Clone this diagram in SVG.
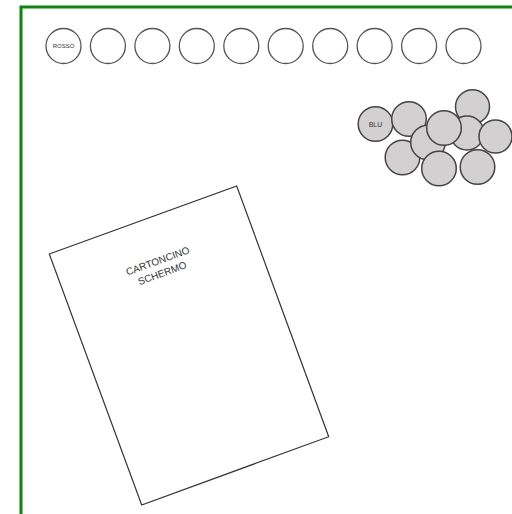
<svg xmlns="http://www.w3.org/2000/svg" width="512" height="514" viewBox="0 0 512 514">
<style>
.row{fill:#fff;stroke:#555;stroke-width:1.3}
.blu{fill:#d2d0d0;stroke:#444;stroke-width:1.5}
.lbl{font-family:"Liberation Sans",Arial,sans-serif;fill:#333}
</style>
<rect x="0" y="0" width="512" height="514" fill="#fff"/>
<rect x="21" y="7" width="600" height="600" fill="none" stroke="#0a870a" stroke-width="3"/>
<g id="rosso-row">
<g id="rosso"><circle class="row" cx="63.5" cy="46" r="17.5"/><text class="lbl" x="63.5" y="48.2" font-size="6" text-anchor="middle">ROSSO</text></g>
<circle class="row" cx="107.9" cy="46" r="17.5"/>
<circle class="row" cx="152.4" cy="46" r="17.5"/>
<circle class="row" cx="196.8" cy="46" r="17.5"/>
<circle class="row" cx="241.3" cy="46" r="17.5"/>
<circle class="row" cx="285.7" cy="46" r="17.5"/>
<circle class="row" cx="330.2" cy="46" r="17.5"/>
<circle class="row" cx="374.6" cy="46" r="17.5"/>
<circle class="row" cx="419.1" cy="46" r="17.5"/>
<circle class="row" cx="463.5" cy="46" r="17.5"/>
</g>
<g id="blu-cluster">
<g id="blu"><circle class="blu" cx="375.5" cy="124" r="17.3"/><text class="lbl" x="375.5" y="126.5" font-size="7" text-anchor="middle" fill="#555">BLU</text></g>
<circle class="blu" cx="472.5" cy="106.7" r="17"/>
<circle class="blu" cx="402.5" cy="157.5" r="17.3"/>
<circle class="blu" cx="409" cy="119" r="17.3"/>
<circle class="blu" cx="428" cy="142.5" r="17.3"/>
<circle class="blu" cx="439" cy="168.5" r="17.3"/>
<circle class="blu" cx="467" cy="133" r="17"/>
<circle class="blu" cx="444" cy="128" r="17.3"/>
<circle class="blu" cx="495.5" cy="136.5" r="16.5"/>
<circle class="blu" cx="477.5" cy="167" r="17.3"/>
</g>
<g id="cartoncino">
<polygon points="49.3,254 236.7,186 328.7,436.7 141.7,505" fill="#fff" stroke="#333" stroke-width="1.2"/>
<g transform="translate(160,267) rotate(-20)">
<text class="lbl" x="0" y="-3" font-size="10" text-anchor="middle">CARTONCINO</text>
<text class="lbl" x="0" y="10" font-size="10" text-anchor="middle">SCHERMO</text>
</g>
</g>
</svg>
